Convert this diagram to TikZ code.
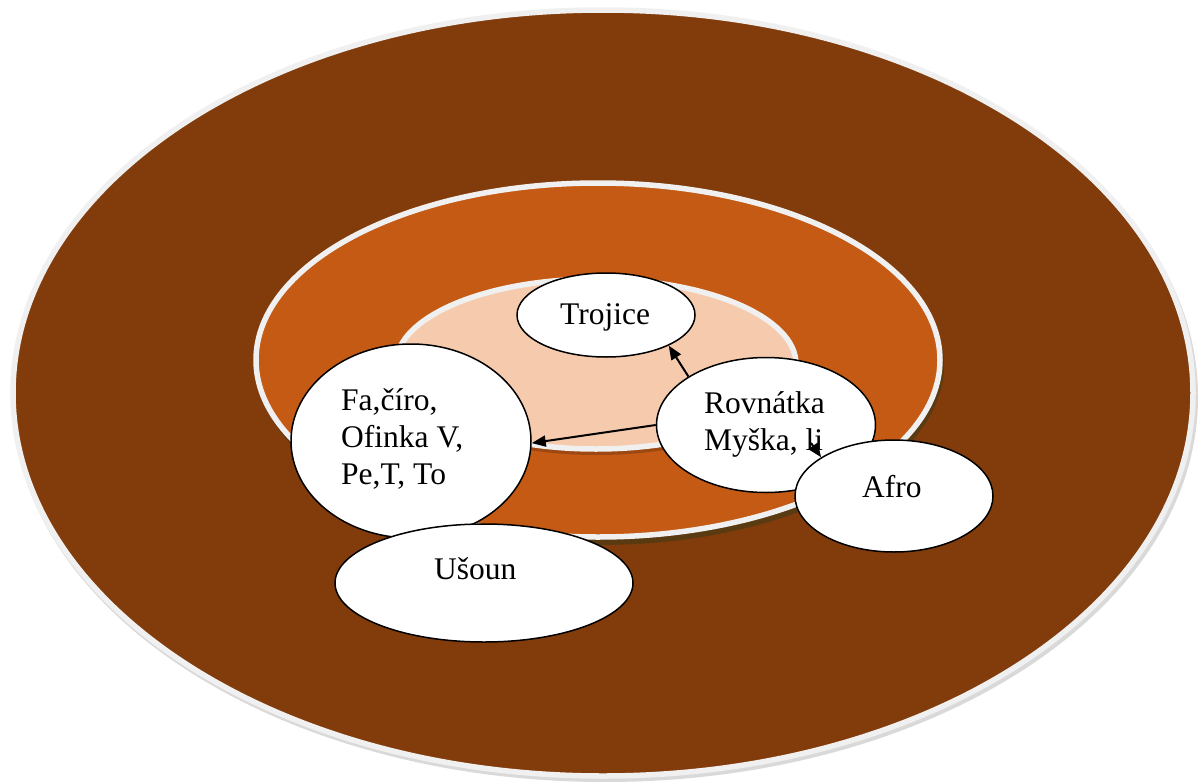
\documentclass[tikz,border=0pt]{standalone}
\usepackage{fontspec}
\setmainfont{Liberation Serif}
\usetikzlibrary{shapes.geometric,arrows.meta,calc}
\definecolor{outerc}{HTML}{823C0C}
\definecolor{midc}{HTML}{C45A14}
\definecolor{innerc}{HTML}{F6CBAD}
\definecolor{rimc}{HTML}{F0F0F0}
\definecolor{shadowc}{HTML}{5A3A10}
\tikzset{
  ring/.style={draw=rimc, line width=5.5pt},
  bubble/.style={ellipse, draw=black, fill=white, line width=1.5pt, inner sep=0pt},
  txt/.style={inner sep=0pt, font=\fontsize{31.5}{37}\selectfont},
  arr/.style={line width=2pt, -{Triangle[length=14pt,width=11pt]}},
}
\begin{document}
\begin{tikzpicture}[x=1pt,y=-1pt]
\useasboundingbox[fill=white] (0,0) rectangle (1203,782);
% outer
\fill[black!15] (605,397) ellipse [x radius=593, y radius=385];
\fill[outerc] (603,393) ellipse [x radius=590, y radius=383];
\draw[ring] (603,393) ellipse [x radius=590, y radius=383];
% middle
\fill[shadowc] (600,365) ellipse [x radius=344, y radius=180];
\fill[midc] (598,360) ellipse [x radius=342, y radius=177];
\draw[ring] (598,360) ellipse [x radius=342, y radius=177];
% inner
\fill[midc!80!black] (597,369) ellipse [x radius=201, y radius=86];
\fill[innerc] (596,364) ellipse [x radius=200, y radius=85];
\draw[ring] (596,364) ellipse [x radius=200, y radius=85];
% bubbles
\node[bubble, minimum width=178pt, minimum height=84pt] (trojice) at (606,315) {};
\node[bubble, minimum width=240pt, minimum height=194pt] (fa) at (411,441) {};
\node[bubble, minimum width=298pt, minimum height=118pt] (usoun) at (484,583) {};
\node[bubble, minimum width=219pt, minimum height=135pt] (rov) at (766,425) {};
\node[bubble, minimum width=198pt, minimum height=112pt] (afro) at (894,496) {};
% texts
\node[txt, anchor=base west] (ttroj) at (560,324) {Trojice};
\node[txt, anchor=base west] (tfa) at (341,410) {\begin{tabular}[t]{@{}l@{}}Fa,číro,\\Ofinka V,\\Pe,T, To\end{tabular}};
\node[txt, anchor=base west] (tusoun) at (434,579) {Ušoun};
\node[txt, anchor=base west] (trov) at (704,413) {\begin{tabular}[t]{@{}l@{}}Rovnátka\\Myška, li\end{tabular}};
\node[txt, anchor=base west] (tafro) at (862,497) {Afro};
% connectors
\coordinate (c3) at (811,443);
\draw[arr] (rov.148) -- (trojice.-26);
\draw[arr] (rov.180) -- (fa.-1);
\draw[arr] (c3) -- (afro.152);
\end{tikzpicture}
\end{document}
